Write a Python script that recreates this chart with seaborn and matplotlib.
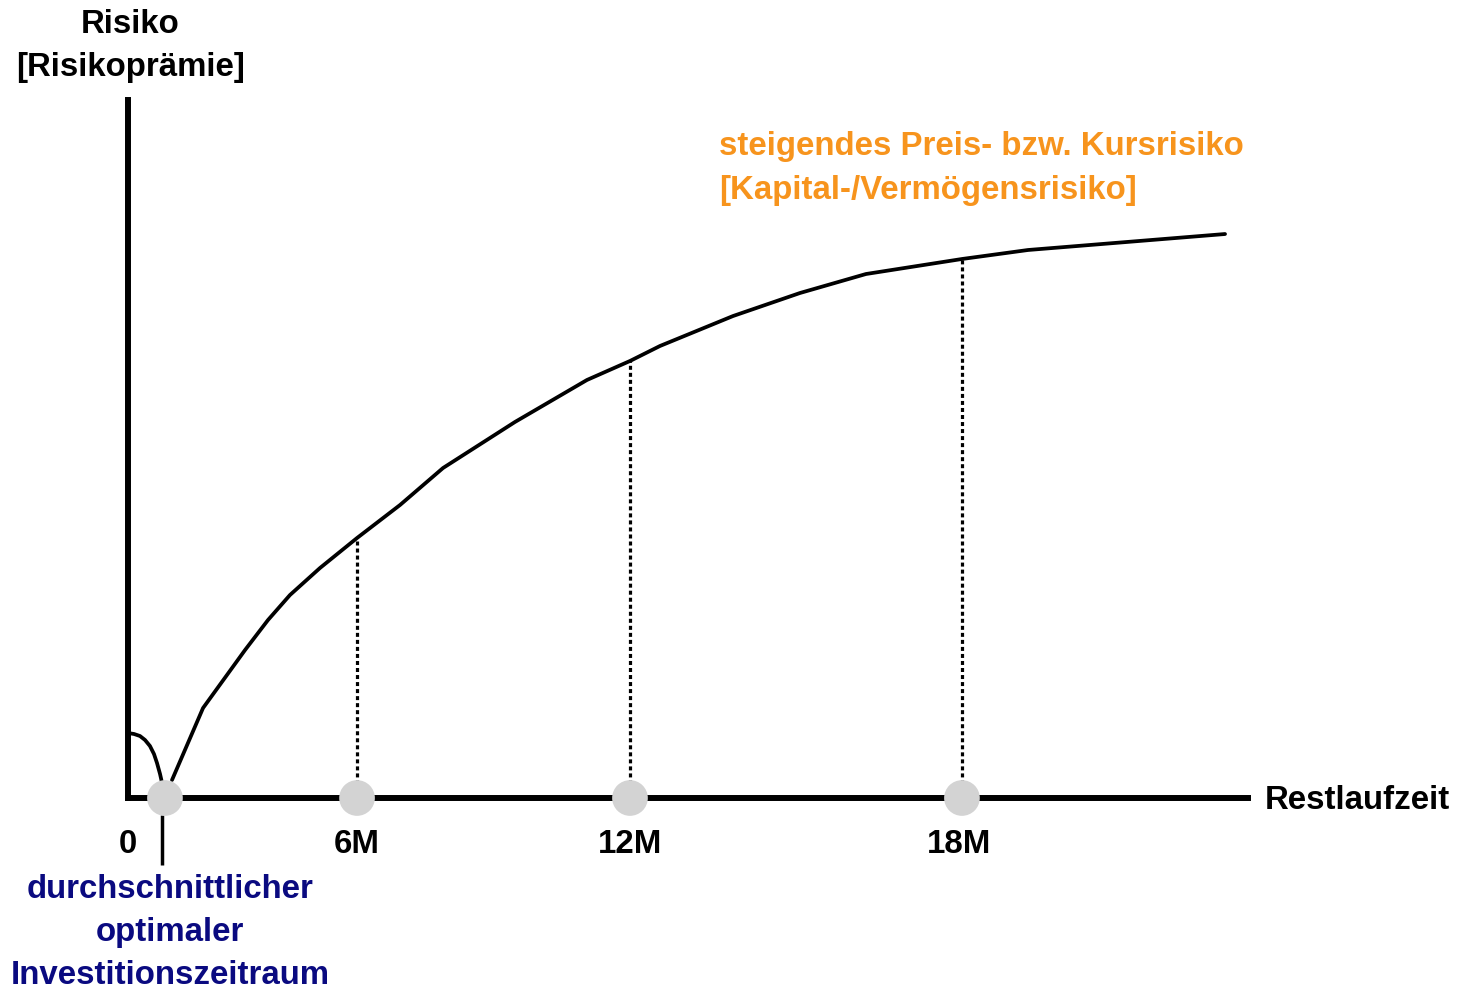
import numpy as np
import matplotlib
matplotlib.use("Agg")
import matplotlib.pyplot as plt
import seaborn as sns
import pandas as pd

# ---- data (conceptual units: x = remaining term, y = risk premium, both 0..100) ----
dip_x = [0.0, 0.54, 1.07, 1.52, 1.96, 2.32, 2.59, 2.86, 3.04, 3.21]
dip_y = [9.31, 9.17, 8.88, 8.31, 7.45, 6.30, 5.01, 3.44, 2.15, 1.15]

curve_x = [3.93, 6.70, 10.45, 12.50, 14.46, 17.14, 20.45, 24.29, 28.13, 34.55,
           40.98, 44.82, 47.50, 54.02, 60.0, 65.89, 74.46, 80.36, 97.95]
curve_y = [2.58, 12.89, 21.20, 25.50, 29.08, 32.95, 37.25, 41.98, 47.28, 53.87,
           59.89, 62.61, 64.76, 69.05, 72.35, 75.07, 77.22, 78.51, 80.80]

marker_x = [3.30, 20.45, 44.82, 74.46]
drop_x = [20.45, 44.82, 74.46]
drop_top = [37.25, 62.61, 77.22]

tick_pos = [0.0, 20.45, 44.82, 74.20]
tick_labels = ["0", "6M", "12M", "18M"]

optimum_x = 3.04
optimum_span = [-2.44, -9.6]

y_title = ["Risiko", "[Risikoprämie]"]
x_title = "Restlaufzeit"
orange_text = ["steigendes Preis- bzw. Kursrisiko", "[Kapital-/Vermögensrisiko]"]
blue_text = ["durchschnittlicher", "optimaler", "Investitionszeitraum"]

ORANGE = "#F7941D"
NAVY = "#0A0A80"
GREY = "#D3D3D3"

sns.set_style("white")
plt.rcParams["font.family"] = ["Liberation Sans", "DejaVu Sans"]
plt.rcParams["font.weight"] = "bold"
plt.rcParams["text.color"] = "black"
plt.rcParams["xtick.color"] = "black"

W, H = 1461, 989
fig = plt.figure(figsize=(W / 100, H / 100), dpi=100)
ax = fig.add_axes([128 / W, (H - 798) / H, 1120 / W, 698 / H])
ax.set_xlim(0, 100)
ax.set_ylim(0, 100)

for s in ["top", "right"]:
    ax.spines[s].set_visible(False)
for s in ["left", "bottom"]:
    ax.spines[s].set_linewidth(4.3)
    ax.spines[s].set_color("black")
    ax.spines[s].set_capstyle("projecting")

df_dip = pd.DataFrame({"x": dip_x, "y": dip_y})
df_curve = pd.DataFrame({"x": curve_x, "y": curve_y})
sns.lineplot(data=df_dip, x="x", y="y", ax=ax, color="black", lw=2.7, sort=False,
             estimator=None, clip_on=False, zorder=3)
sns.lineplot(data=df_curve, x="x", y="y", ax=ax, color="black", lw=2.7, sort=False,
             estimator=None, clip_on=False, zorder=3)

ax.vlines(drop_x, 0, drop_top, colors="black", linestyles=(0, (1.25, 0.95)), lw=2.3,
          zorder=2)

ax.plot([optimum_x, optimum_x], optimum_span, color="black", lw=2.5, clip_on=False,
        solid_capstyle="butt")

sns.scatterplot(x=marker_x, y=[0] * len(marker_x), ax=ax, s=660, color=GREY,
                edgecolor="none", zorder=5, clip_on=False)

fs = 23.8
ax.set_xticks(tick_pos)
ax.set_xticklabels(tick_labels, fontsize=fs, fontweight="bold", color="black")
ax.tick_params(axis="x", length=0, pad=22)
ax.set_yticks([])
ax.set_xlabel("")
ax.set_ylabel("")

for i, t in enumerate(y_title):
    ax.text(0.2, 110.8 - 6.1 * i, t, ha="center", va="center", fontsize=fs,
            fontweight="bold", color="black", clip_on=False)
ax.text(101.5, -0.3, x_title, ha="left", va="center", fontsize=fs, fontweight="bold",
        color="black", clip_on=False)
for i, t in enumerate(orange_text):
    ax.text(52.77, 93.3 - 6.2 * i, t, ha="left", va="center", fontsize=fs,
            fontweight="bold", color=ORANGE, clip_on=False)
for i, t in enumerate(blue_text):
    ax.text(3.75, -13.15 - 6.15 * i, t, ha="center", va="center", fontsize=fs,
            fontweight="bold", color=NAVY, clip_on=False)

fig.savefig("out.png", dpi=100)
